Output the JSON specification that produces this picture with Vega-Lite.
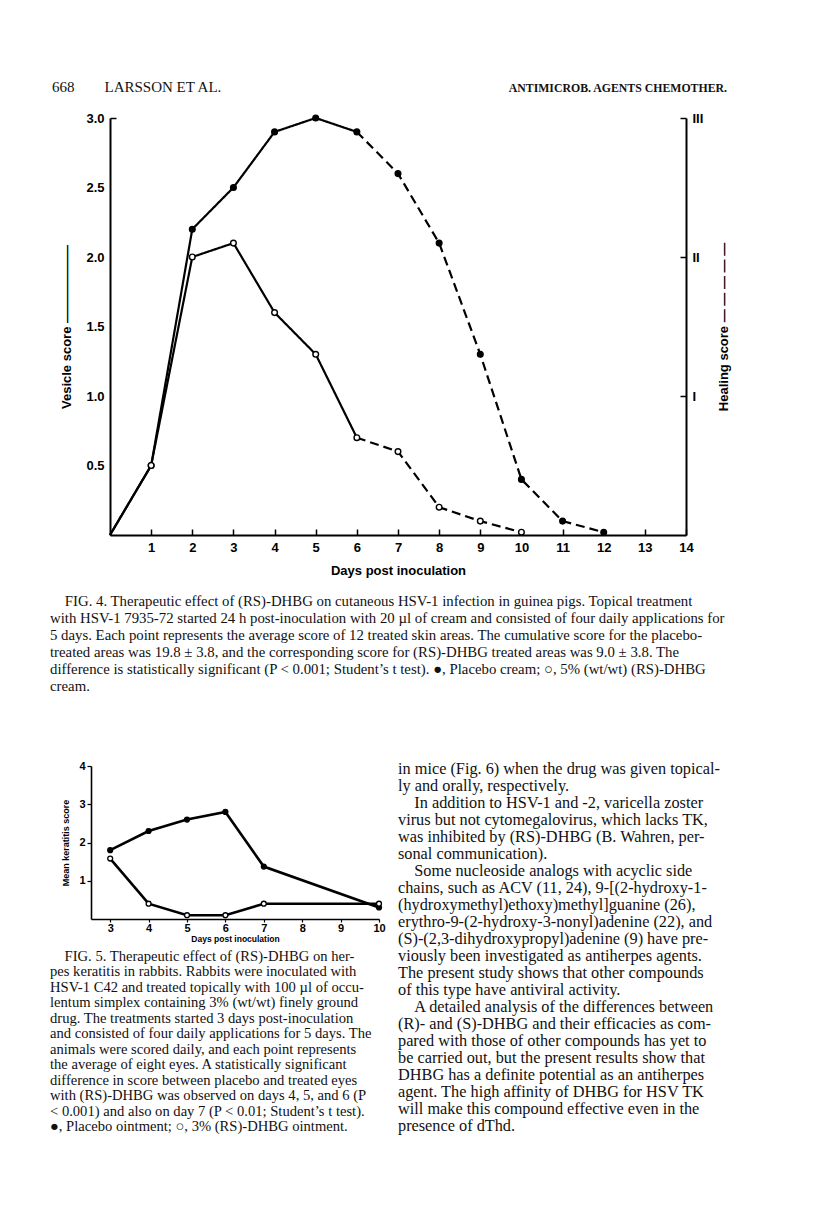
{
  "$schema": "https://vega.github.io/schema/vega-lite/v6.json",
  "width": 816,
  "height": 1217,
  "autosize": {"type": "none"},
  "padding": 0,
  "background": "white",
  "config": {
    "view": {"stroke": null},
    "axis": {"labelFont": "Liberation Sans", "titleFont": "Liberation Sans", "labelColor": "black", "titleColor": "black", "domainColor": "black", "tickColor": "black", "grid": false, "labelFontWeight": "bold", "titleFontWeight": "bold", "labelFlush": false, "labelOverlap": false}
  },
  "datasets": {
    "fig4": [
      {"treatment": "Placebo", "phase": "vesicle", "day": 0, "score": 0},
      {"treatment": "Placebo", "phase": "vesicle", "day": 1, "score": 0.5},
      {"treatment": "Placebo", "phase": "vesicle", "day": 2, "score": 2.2},
      {"treatment": "Placebo", "phase": "vesicle", "day": 3, "score": 2.5},
      {"treatment": "Placebo", "phase": "vesicle", "day": 4, "score": 2.9},
      {"treatment": "Placebo", "phase": "vesicle", "day": 5, "score": 3.0},
      {"treatment": "Placebo", "phase": "vesicle", "day": 6, "score": 2.9},
      {"treatment": "Placebo", "phase": "healing", "day": 6, "score": 2.9},
      {"treatment": "Placebo", "phase": "healing", "day": 7, "score": 2.6},
      {"treatment": "Placebo", "phase": "healing", "day": 8, "score": 2.1},
      {"treatment": "Placebo", "phase": "healing", "day": 9, "score": 1.3},
      {"treatment": "Placebo", "phase": "healing", "day": 10, "score": 0.4},
      {"treatment": "Placebo", "phase": "healing", "day": 11, "score": 0.1},
      {"treatment": "Placebo", "phase": "healing", "day": 12, "score": 0.02},
      {"treatment": "(RS)-DHBG", "phase": "vesicle", "day": 0, "score": 0},
      {"treatment": "(RS)-DHBG", "phase": "vesicle", "day": 1, "score": 0.5},
      {"treatment": "(RS)-DHBG", "phase": "vesicle", "day": 2, "score": 2.0},
      {"treatment": "(RS)-DHBG", "phase": "vesicle", "day": 3, "score": 2.1},
      {"treatment": "(RS)-DHBG", "phase": "vesicle", "day": 4, "score": 1.6},
      {"treatment": "(RS)-DHBG", "phase": "vesicle", "day": 5, "score": 1.3},
      {"treatment": "(RS)-DHBG", "phase": "vesicle", "day": 6, "score": 0.7},
      {"treatment": "(RS)-DHBG", "phase": "healing", "day": 6, "score": 0.7},
      {"treatment": "(RS)-DHBG", "phase": "healing", "day": 7, "score": 0.6},
      {"treatment": "(RS)-DHBG", "phase": "healing", "day": 8, "score": 0.2},
      {"treatment": "(RS)-DHBG", "phase": "healing", "day": 9, "score": 0.1},
      {"treatment": "(RS)-DHBG", "phase": "healing", "day": 10, "score": 0.02}
    ],
    "fig5": [
      {"treatment": "Placebo", "day": 3, "score": 1.8},
      {"treatment": "Placebo", "day": 4, "score": 2.3},
      {"treatment": "Placebo", "day": 5, "score": 2.6},
      {"treatment": "Placebo", "day": 6, "score": 2.8},
      {"treatment": "Placebo", "day": 7, "score": 1.37},
      {"treatment": "Placebo", "day": 10, "score": 0.3},
      {"treatment": "(RS)-DHBG", "day": 3, "score": 1.58},
      {"treatment": "(RS)-DHBG", "day": 4, "score": 0.4},
      {"treatment": "(RS)-DHBG", "day": 5, "score": 0.1},
      {"treatment": "(RS)-DHBG", "day": 6, "score": 0.1},
      {"treatment": "(RS)-DHBG", "day": 7, "score": 0.4},
      {"treatment": "(RS)-DHBG", "day": 10, "score": 0.4}
    ],
    "text": [
      {"block": "headL", "line": 1, "text": "668\u2003\u2003LARSSON ET AL."},
      {"block": "headR", "line": 1, "text": "ANTIMICROB. AGENTS CHEMOTHER."},
      {"block": "cap4", "line": 1, "text": "\u200b\u2003FIG. 4. Therapeutic effect of (RS)-DHBG on cutaneous HSV-1 infection in guinea pigs. Topical treatment"},
      {"block": "cap4", "line": 2, "text": "with HSV-1 7935-72 started 24 h post-inoculation with 20 µl of cream and consisted of four daily applications for"},
      {"block": "cap4", "line": 3, "text": "5 days. Each point represents the average score of 12 treated skin areas. The cumulative score for the placebo-"},
      {"block": "cap4", "line": 4, "text": "treated areas was 19.8 ± 3.8, and the corresponding score for (RS)-DHBG treated areas was 9.0 ± 3.8. The"},
      {"block": "cap4", "line": 5, "text": "difference is statistically significant (P < 0.001; Student’s t test). ●, Placebo cream; ○, 5% (wt/wt) (RS)-DHBG"},
      {"block": "cap4", "line": 6, "text": "cream."},
      {"block": "cap5", "line": 1, "text": "\u200b\u2003FIG. 5. Therapeutic effect of (RS)-DHBG on her-"},
      {"block": "cap5", "line": 2, "text": "pes keratitis in rabbits. Rabbits were inoculated with"},
      {"block": "cap5", "line": 3, "text": "HSV-1 C42 and treated topically with 100 µl of occu-"},
      {"block": "cap5", "line": 4, "text": "lentum simplex containing 3% (wt/wt) finely ground"},
      {"block": "cap5", "line": 5, "text": "drug. The treatments started 3 days post-inoculation"},
      {"block": "cap5", "line": 6, "text": "and consisted of four daily applications for 5 days. The"},
      {"block": "cap5", "line": 7, "text": "animals were scored daily, and each point represents"},
      {"block": "cap5", "line": 8, "text": "the average of eight eyes. A statistically significant"},
      {"block": "cap5", "line": 9, "text": "difference in score between placebo and treated eyes"},
      {"block": "cap5", "line": 10, "text": "with (RS)-DHBG was observed on days 4, 5, and 6 (P"},
      {"block": "cap5", "line": 11, "text": "< 0.001) and also on day 7 (P < 0.01; Student’s t test)."},
      {"block": "cap5", "line": 12, "text": "●, Placebo ointment; ○, 3% (RS)-DHBG ointment."},
      {"block": "body", "line": 1, "text": "in mice (Fig. 6) when the drug was given topical-"},
      {"block": "body", "line": 2, "text": "ly and orally, respectively."},
      {"block": "body", "line": 3, "text": "\u200b\u2003In addition to HSV-1 and -2, varicella zoster"},
      {"block": "body", "line": 4, "text": "virus but not cytomegalovirus, which lacks TK,"},
      {"block": "body", "line": 5, "text": "was inhibited by (RS)-DHBG (B. Wahren, per-"},
      {"block": "body", "line": 6, "text": "sonal communication)."},
      {"block": "body", "line": 7, "text": "\u200b\u2003Some nucleoside analogs with acyclic side"},
      {"block": "body", "line": 8, "text": "chains, such as ACV (11, 24), 9-[(2-hydroxy-1-"},
      {"block": "body", "line": 9, "text": "(hydroxymethyl)ethoxy)methyl]guanine (26),"},
      {"block": "body", "line": 10, "text": "erythro-9-(2-hydroxy-3-nonyl)adenine (22), and"},
      {"block": "body", "line": 11, "text": "(S)-(2,3-dihydroxypropyl)adenine (9) have pre-"},
      {"block": "body", "line": 12, "text": "viously been investigated as antiherpes agents."},
      {"block": "body", "line": 13, "text": "The present study shows that other compounds"},
      {"block": "body", "line": 14, "text": "of this type have antiviral activity."},
      {"block": "body", "line": 15, "text": "\u200b\u2003A detailed analysis of the differences between"},
      {"block": "body", "line": 16, "text": "(R)- and (S)-DHBG and their efficacies as com-"},
      {"block": "body", "line": 17, "text": "pared with those of other compounds has yet to"},
      {"block": "body", "line": 18, "text": "be carried out, but the present results show that"},
      {"block": "body", "line": 19, "text": "DHBG has a definite potential as an antiherpes"},
      {"block": "body", "line": 20, "text": "agent. The high affinity of DHBG for HSV TK"},
      {"block": "body", "line": 21, "text": "will make this compound effective even in the"},
      {"block": "body", "line": 22, "text": "presence of dThd."}
    ]
  },
  "resolve": {
    "scale": {"x": "independent", "y": "independent", "fill": "independent", "strokeDash": "independent"},
    "axis": {"x": "independent", "y": "independent"}
  },
  "layer": [
    {
      "data": {"name": "fig4"},
      "mark": {"type": "line", "color": "black", "strokeWidth": 2.2},
      "encoding": {
        "x": {"field": "day", "type": "quantitative",
          "scale": {"domain": [0, 14], "range": [110, 686], "nice": false, "zero": false},
          "axis": {"orient": "bottom", "offset": -682, "values": [1,2,3,4,5,6,7,8,9,10,11,12,13,14], "tickSize": -6, "tickWidth": 1.5, "domainWidth": 2, "labelPadding": 12, "labelFontSize": 13, "title": "Days post inoculation", "titleFontSize": 13, "titlePadding": 10}},
        "y": {"field": "score", "type": "quantitative",
          "scale": {"domain": [0, 3], "range": [535, 118], "nice": false, "zero": false},
          "axis": {"orient": "left", "offset": -110, "values": [0.5, 1, 1.5, 2, 2.5, 3], "format": ".1f", "tickSize": -6, "tickWidth": 1.5, "tickOpacity": {"condition": {"test": "datum.value == 3", "value": 1}, "value": 0}, "domainWidth": 2, "labelPadding": 12, "labelFontSize": 13, "title": "Vesicle score \u2014\u2014\u2014\u2014\u2014\u2014", "titleFontSize": 13, "titlePadding": 12}},
        "detail": {"field": "treatment"},
        "strokeDash": {"field": "phase", "type": "nominal", "scale": {"domain": ["vesicle", "healing"], "range": [[1, 0], [9, 5]]}, "legend": null}
      }
    },
    {
      "data": {"name": "fig4"},
      "transform": [{"filter": "datum.day > 0 && (datum.phase == 'vesicle' || datum.day > 6)"}],
      "mark": {"type": "point", "shape": "circle", "filled": true, "size": 32, "stroke": "black", "strokeWidth": 1.4, "opacity": 1},
      "encoding": {
        "x": {"field": "day", "type": "quantitative", "scale": {"domain": [0, 14], "range": [110, 686], "nice": false, "zero": false}, "axis": null},
        "y": {"field": "score", "type": "quantitative",
          "scale": {"domain": [0, 3], "range": [535, 118], "nice": false, "zero": false},
          "axis": {"orient": "right", "offset": -130, "values": [1, 2, 3], "labelExpr": "datum.value == 1 ? 'I' : datum.value == 2 ? 'II' : 'III'", "tickSize": -6, "tickWidth": 1.5, "domainWidth": 2, "labelPadding": 12, "labelFontSize": 13, "title": "Healing score \u2014 \u2014 \u2014 \u2014 \u2014", "titleAngle": 270, "titleFontSize": 13, "titlePadding": 28}},
        "fill": {"field": "treatment", "type": "nominal", "scale": {"domain": ["Placebo", "(RS)-DHBG"], "range": ["black", "white"]}, "legend": null}
      }
    },
    {
      "data": {"name": "fig5"},
      "mark": {"type": "line", "color": "black", "strokeWidth": 2.6},
      "encoding": {
        "x": {"field": "day", "type": "quantitative",
          "scale": {"domain": [2.5, 10], "range": [91, 379], "nice": false, "zero": false},
          "axis": {"orient": "bottom", "offset": -298, "values": [3,4,5,6,7,8,9,10], "tickSize": 3, "tickWidth": 1.2, "domainWidth": 1.6, "labelPadding": 0, "labelFontSize": 11, "title": "Days post inoculation", "titleFontSize": 8.5, "titlePadding": 1}},
        "y": {"field": "score", "type": "quantitative",
          "scale": {"domain": [0, 4], "range": [919, 766], "nice": false, "zero": false},
          "axis": {"orient": "left", "offset": -91, "values": [1, 2, 3, 4], "tickSize": 4, "tickWidth": 1.2, "domainWidth": 1.6, "labelPadding": 2, "labelFontSize": 11, "title": "Mean keratitis score", "titleFontSize": 9, "titlePadding": 8}},
        "detail": {"field": "treatment"}
      }
    },
    {
      "data": {"name": "fig5"},
      "mark": {"type": "point", "shape": "circle", "filled": true, "size": 24, "stroke": "black", "strokeWidth": 1.3, "opacity": 1},
      "encoding": {
        "x": {"field": "day", "type": "quantitative", "scale": {"domain": [2.5, 10], "range": [91, 379], "nice": false, "zero": false}, "axis": null},
        "y": {"field": "score", "type": "quantitative", "scale": {"domain": [0, 4], "range": [919, 766], "nice": false, "zero": false}, "axis": null},
        "fill": {"field": "treatment", "type": "nominal", "scale": {"domain": ["Placebo", "(RS)-DHBG"], "range": ["black", "white"]}, "legend": null}
      }
    },
    {
      "data": {"name": "text"},
      "transform": [{"filter": "datum.block == 'headL'"}],
      "mark": {"type": "text", "align": "left", "baseline": "alphabetic", "font": "Liberation Serif", "fontSize": 15, "color": "#111"},
      "encoding": {
        "x": {"datum": 0, "type": "quantitative", "scale": {"domain": [0, 1], "range": [52, 727]}, "axis": null},
        "y": {"field": "line", "type": "quantitative", "scale": {"domain": [1, 2], "range": [92, 109]}, "axis": null},
        "text": {"field": "text"}
      }
    },
    {
      "data": {"name": "text"},
      "transform": [{"filter": "datum.block == 'headR'"}],
      "mark": {"type": "text", "align": "right", "baseline": "alphabetic", "font": "Liberation Serif", "fontSize": 11.8, "fontWeight": "bold", "color": "#111"},
      "encoding": {
        "x": {"datum": 1, "type": "quantitative", "scale": {"domain": [0, 1], "range": [52, 727]}, "axis": null},
        "y": {"field": "line", "type": "quantitative", "scale": {"domain": [1, 2], "range": [92, 109]}, "axis": null},
        "text": {"field": "text"}
      }
    },
    {
      "data": {"name": "text"},
      "transform": [{"filter": "datum.block == 'cap4'"}],
      "mark": {"type": "text", "align": "left", "baseline": "alphabetic", "font": "Liberation Serif", "fontSize": 14.8, "color": "#111"},
      "encoding": {
        "x": {"datum": 0, "type": "quantitative", "scale": {"domain": [0, 1], "range": [50, 727]}, "axis": null},
        "y": {"field": "line", "type": "quantitative", "scale": {"domain": [1, 6], "range": [606, 691]}, "axis": null},
        "text": {"field": "text"}
      }
    },
    {
      "data": {"name": "text"},
      "transform": [{"filter": "datum.block == 'cap5'"}],
      "mark": {"type": "text", "align": "left", "baseline": "alphabetic", "font": "Liberation Serif", "fontSize": 14.6, "color": "#111"},
      "encoding": {
        "x": {"datum": 0, "type": "quantitative", "scale": {"domain": [0, 1], "range": [50, 385]}, "axis": null},
        "y": {"field": "line", "type": "quantitative", "scale": {"domain": [1, 12], "range": [961, 1131]}, "axis": null},
        "text": {"field": "text"}
      }
    },
    {
      "data": {"name": "text"},
      "transform": [{"filter": "datum.block == 'body'"}],
      "mark": {"type": "text", "align": "left", "baseline": "alphabetic", "font": "Liberation Serif", "fontSize": 16.3, "color": "#111"},
      "encoding": {
        "x": {"datum": 0, "type": "quantitative", "scale": {"domain": [0, 1], "range": [398, 727]}, "axis": null},
        "y": {"field": "line", "type": "quantitative", "scale": {"domain": [1, 22], "range": [774, 1131]}, "axis": null},
        "text": {"field": "text"}
      }
    }
  ]
}
